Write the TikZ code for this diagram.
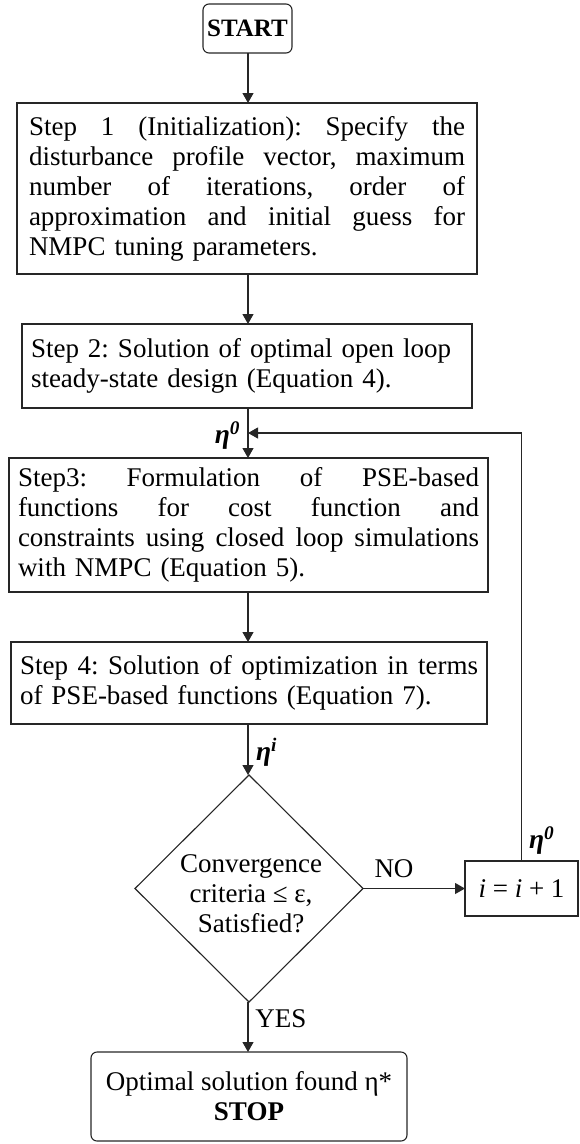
\documentclass[tikz,border=0pt]{standalone}
\usepackage{fontspec}
\setmainfont{Liberation Serif}
\usetikzlibrary{shapes.geometric,arrows.meta}
\newcommand{\jline}[2]{\makebox[#1][l]{#2}}
\newcommand{\g}{\hfill}
\hyphenpenalty=10000
\exhyphenpenalty=10000
\begin{document}
\frenchspacing
\begin{tikzpicture}[x=1pt,y=-1pt,
  font=\frenchspacing\fontsize{27}{30}\selectfont,
  every node/.style={inner sep=0pt, outer sep=0pt},
  ln/.style={line width=1.1pt, draw=black!85},
  box/.style={ln, draw, inner xsep=9pt, inner ysep=0pt, align=left},
  startbox/.style={ln, draw, rounded corners=6pt, minimum width=89pt, minimum height=49pt, font=\bfseries\fontsize{25}{28}\selectfont},
  endbox/.style={ln, draw, rounded corners=6pt, minimum width=316pt, minimum height=89pt, align=center},
  incbox/.style={ln, draw, minimum width=113pt, minimum height=55pt},
  decision/.style={ln, draw, diamond, minimum width=228pt, minimum height=227pt},
  arr/.style={ln, -{Triangle[length=10pt,width=11pt]}},
  eta/.style={font=\bfseries\itshape\fontsize{27.5}{30}\selectfont}
]
\useasboundingbox (0,0) rectangle (580,1144);
\coordinate (axis) at (248,0);

\node[startbox] (start) at (247.5,28.5) {START};

\node[box, inner xsep=12pt, text width=436pt, minimum height=171pt] (s1) at (247,188.5)
  {\jline{436pt}{Step\g 1\g (Initialization):\g Specify\g the}\\
   \jline{436pt}{disturbance\g profile\g vector,\g maximum}\\
   \jline{436pt}{number\g of\g iterations,\g order\g of}\\
   \jline{436pt}{approximation\g and\g initial\g guess\g for}\\
   NMPC tuning parameters.};

\node[box, text width=432pt, minimum height=84pt] (s2) at (247,366)
  {Step 2: Solution of optimal open loop\\
   steady-state design (Equation 4).};

\node[box, text width=461pt, minimum height=134pt] (s3) at (248.5,525)
  {\jline{461pt}{Step3:\g Formulation\g of\g PSE-based}\\
   \jline{461pt}{functions\g for\g cost\g function\g and}\\
   \jline{461pt}{constraints\g using\g closed\g loop\g simulations}\\
   with NMPC (Equation 5).};

\node[box, text width=458pt, minimum height=82pt] (s4) at (249,683)
  {\jline{458pt}{Step\g 4:\g Solution\g of\g optimization\g in\g terms}\\
   of PSE-based functions (Equation 7).};

\node[decision] (dec) at (249,888.5) {};
\node[align=center] (dtext) at (251,894) {Convergence\\criteria ≤ ε,\\Satisfied?};

\node[incbox] (inc) at (521.5,888.5) {\textit{i} = \textit{i} + 1};

\node[endbox] (stop) at (249,1096.5) {Optimal solution found η*\\\textbf{STOP}};

\coordinate (fb) at (248,433);

\draw[arr] (start.south -| axis) -- (s1.north -| axis);
\draw[arr] (s1.south -| axis) -- (s2.north -| axis);
\draw[arr] (s2.south -| axis) -- (s3.north -| axis);
\draw[arr] (s3.south -| axis) -- (s4.north -| axis);
\draw[arr] (s4.south -| axis) -- (dec.north -| axis);
\draw[arr] (dec.south -| axis) -- (stop.north -| axis);
\draw[arr] (dec.east) -- (inc.west);
\draw[arr] (inc.north) |- (fb);

\node[eta, anchor=east] (eta0) at (240,436) {η\textsuperscript{0}};
\node[eta, anchor=west] (etai) at (256,752) {η\textsuperscript{i}};
\node[eta, anchor=west] (eta0b) at (529,841) {η\textsuperscript{0}};
\node (no) at (394,869) {NO};
\node (yes) at (281,1019) {YES};
\end{tikzpicture}
\end{document}
